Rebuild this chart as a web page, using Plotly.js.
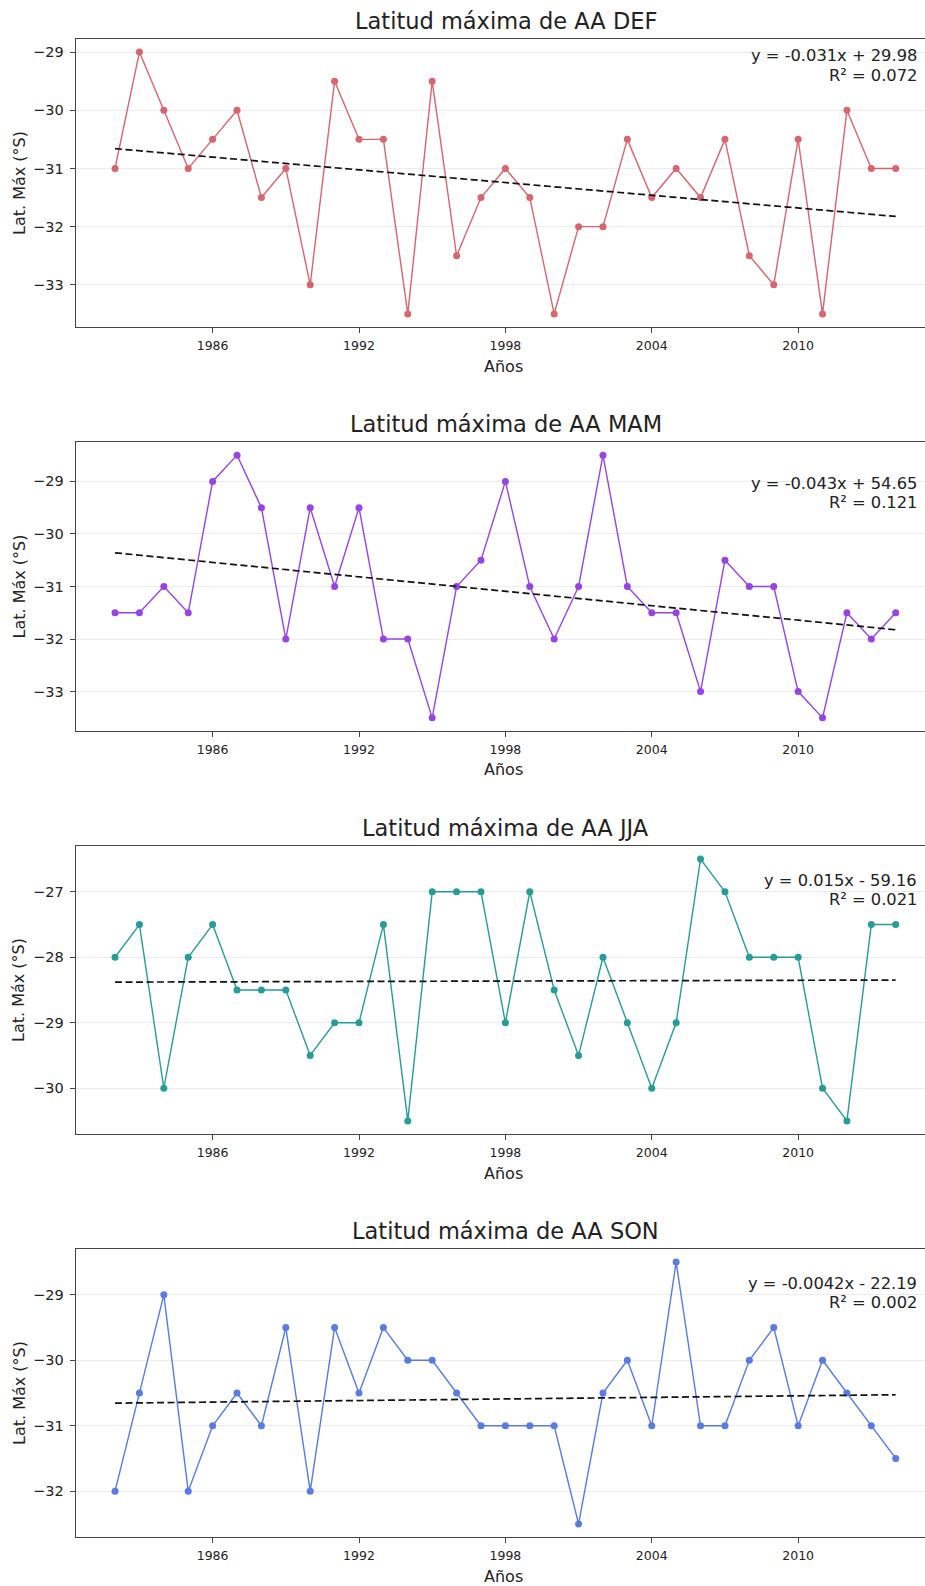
<!DOCTYPE html>
<html>
<head>
<meta charset="utf-8">
<script src="https://cdn.plot.ly/plotly-3.0.1.min.js"></script>
<style>
html,body{margin:0;padding:0;background:#fff;}
#chart{width:925px;height:1586px;}
</style>
</head>
<body>
<div id="chart"></div>
<script>
const years = [1982,1983,1984,1985,1986,1987,1988,1989,1990,1991,1992,1993,1994,1995,1996,1997,1998,1999,2000,2001,2002,2003,2004,2005,2006,2007,2008,2009,2010,2011,2012,2013,2014];
const defVals = [-31,-29,-30,-31,-30.5,-30,-31.5,-31,-33,-29.5,-30.5,-30.5,-33.5,-29.5,-32.5,-31.5,-31,-31.5,-33.5,-32,-32,-30.5,-31.5,-31,-31.5,-30.5,-32.5,-33,-30.5,-33.5,-30,-31,-31];
const mamVals = [-31.5,-31.5,-31,-31.5,-29,-28.5,-29.5,-32,-29.5,-31,-29.5,-32,-32,-33.5,-31,-30.5,-29,-31,-32,-31,-28.5,-31,-31.5,-31.5,-33,-30.5,-31,-31,-33,-33.5,-31.5,-32,-31.5];
const jjaVals = [-28,-27.5,-30,-28,-27.5,-28.5,-28.5,-28.5,-29.5,-29,-29,-27.5,-30.5,-27,-27,-27,-29,-27,-28.5,-29.5,-28,-29,-30,-29,-26.5,-27,-28,-28,-28,-30,-30.5,-27.5,-27.5];
const sonVals = [-32,-30.5,-29,-32,-31,-30.5,-31,-29.5,-32,-29.5,-30.5,-29.5,-30,-30,-30.5,-31,-31,-31,-31,-32.5,-30.5,-30,-31,-28.5,-31,-31,-30,-29.5,-31,-30,-30.5,-31,-31.5];

const titles = ['Latitud máxima de AA DEF','Latitud máxima de AA MAM','Latitud máxima de AA JJA','Latitud máxima de AA SON'];
const eqTexts = ['y = -0.031x + 29.98','y = -0.043x + 54.65','y = 0.015x - 59.16','y = -0.0042x - 22.19'];
const r2Texts = ['R² = 0.072','R² = 0.121','R² = 0.021','R² = 0.002'];
const xTickVals = [1986,1992,1998,2004,2010];
const yTickSets = [[-33,-32,-31,-30,-29],[-33,-32,-31,-30,-29],[-30,-29,-28,-27],[-32,-31,-30,-29]];
const xTitle = 'Años';
const yTitle = 'Lat. Máx (°S)';

const series = [defVals, mamVals, jjaVals, sonVals];
const colors = ['#d4505c','#8a2be2','#0a8f8a','#4169e1'];
const yRanges = [[-33.725,-28.775],[-33.75,-28.25],[-30.7,-26.3],[-32.7,-28.3]];

const W = 925, H = 1586;
const panels = [{top:39,bottom:327},{top:442,bottom:731},{top:846,bottom:1134},{top:1249,bottom:1537}];
const eqOffsets = [17, 41, 34, 34];
const leftPx = 76;

function fit(xs, ys){
  const n = xs.length;
  let mx=0, my=0;
  for(let i=0;i<n;i++){mx+=xs[i];my+=ys[i];}
  mx/=n; my/=n;
  let sxy=0,sxx=0;
  for(let i=0;i<n;i++){sxy+=(xs[i]-mx)*(ys[i]-my);sxx+=(xs[i]-mx)*(xs[i]-mx);}
  const b = sxy/sxx, a = my - b*mx;
  return xs.map(x => a + b*x);
}

const fmt = v => (v<0 ? '\u2212' : '') + Math.abs(v);

const traces = [];
const layout = {
  width: W, height: H,
  margin: {l:0,r:0,t:0,b:0},
  paper_bgcolor: '#fff',
  plot_bgcolor: '#fff',
  showlegend: false,
  font: {family: 'DejaVu Sans, sans-serif', color: '#222'},
  annotations: []
};

series.forEach((vals, i) => {
  const ax = i === 0 ? '' : String(i+1);
  traces.push({
    x: years, y: vals, type: 'scatter', mode: 'lines+markers',
    xaxis: 'x'+ax, yaxis: 'y'+ax,
    line: {color: colors[i], width: 1.4},
    marker: {color: colors[i], size: 7},
    opacity: 0.88,
    hoverinfo: 'skip'
  });
  traces.push({
    x: years, y: fit(years, vals), type: 'scatter', mode: 'lines',
    xaxis: 'x'+ax, yaxis: 'y'+ax,
    line: {color: '#111', width: 1.7, dash: '7px,3.5px'},
    hoverinfo: 'skip'
  });
  const p = panels[i];
  const d0 = 1 - p.bottom/H, d1 = 1 - p.top/H;
  layout['xaxis'+ax] = {
    domain: [leftPx/W, 1],
    range: [1980.4, 2015.2],
    anchor: 'y'+ax,
    tickvals: xTickVals,
    ticktext: xTickVals.map(String),
    ticks: 'outside', ticklen: 5, tickwidth: 1, tickcolor: '#444',
    tickfont: {size: 12.5, color: '#222'},
    ticklabelstandoff: 2,
    showline: true, mirror: true, linecolor: '#444', linewidth: 1.4,
    showgrid: false, zeroline: false
  };
  layout['yaxis'+ax] = {
    domain: [d0, d1],
    range: yRanges[i],
    anchor: 'x'+ax,
    tickvals: yTickSets[i],
    ticktext: yTickSets[i].map(fmt),
    ticks: 'outside', ticklen: 5, tickwidth: 1, tickcolor: '#444',
    tickfont: {size: 14.5, color: '#222'},
    ticklabelstandoff: 3,
    showline: true, mirror: false, linecolor: '#444', linewidth: 1.4,
    showgrid: true, gridcolor: '#ececec', gridwidth: 1,
    zeroline: false
  };
  layout.annotations.push({
    text: titles[i], xref: 'paper', yref: 'paper',
    x: 505.5/W, y: 1 - (p.top - 18)/H, xanchor: 'center', yanchor: 'middle',
    showarrow: false, font: {size: 22.5, color: '#222'}
  });
  layout.annotations.push({
    text: xTitle, xref: 'paper', yref: 'paper',
    x: 503/W, y: 1 - (p.bottom + 39)/H, xanchor: 'center', yanchor: 'middle',
    showarrow: false, font: {size: 16, color: '#222'}
  });
  layout.annotations.push({
    text: yTitle, xref: 'paper', yref: 'paper', textangle: -90,
    x: 19/W, y: 1 - ((p.top + p.bottom)/2)/H, xanchor: 'center', yanchor: 'middle',
    showarrow: false, font: {size: 16, color: '#222'}
  });
  layout.annotations.push({
    text: eqTexts[i], xref: 'paper', yref: 'paper',
    x: 918/W, y: 1 - (p.top + eqOffsets[i])/H, xanchor: 'right', yanchor: 'middle',
    showarrow: false, font: {size: 16.3, color: '#222'}, borderpad: 0
  });
  layout.annotations.push({
    text: r2Texts[i], xref: 'paper', yref: 'paper',
    x: 918/W, y: 1 - (p.top + eqOffsets[i] + 19)/H, xanchor: 'right', yanchor: 'middle',
    showarrow: false, font: {size: 16.3, color: '#222'}, borderpad: 0
  });
});

Plotly.newPlot('chart', traces, layout, {staticPlot: true, displayModeBar: false});
</script>
</body>
</html>
